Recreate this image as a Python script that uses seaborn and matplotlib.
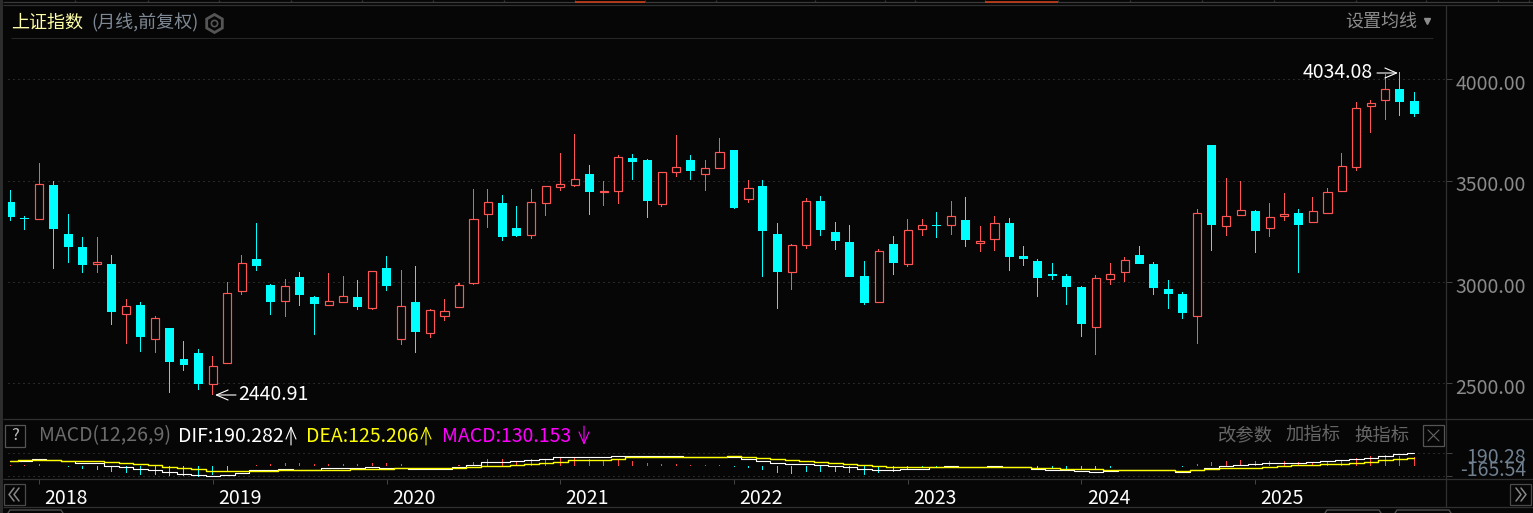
import matplotlib
matplotlib.use("Agg")
import matplotlib.pyplot as plt
from matplotlib.transforms import ScaledTranslation
import numpy as np
import pandas as pd
import seaborn as sns

# monthly candles
opens = [3394, 3316, 3312, 3478, 3237, 3172, 3087, 3088, 2840, 2886, 2717, 2773, 2620, 2649, 2498, 2598, 2954, 3113, 2985, 2904,
         3024, 2926, 2888, 2903, 2926, 2873, 3069, 2717, 2901, 2746, 2830, 2875, 2993, 3334, 3390, 3266, 3230, 3388, 3470, 3477,
         3533, 3442, 3447, 3612, 3602, 3383, 3541, 3602, 3531, 3561, 3651, 3408, 3473, 3237, 3047, 3181, 3399, 3246, 3197, 3029,
         2899, 3187, 3087, 3260, 3281, 3279, 3306, 3194, 3210, 3291, 3128, 3103, 3039, 3029, 2975, 2776, 3013, 3047, 3133, 3088,
         2965, 2940, 2834, 3676, 3274, 3329, 3350, 3269, 3327, 3340, 3294, 3339, 3447, 3566, 3867, 3896, 3952, 3893]
closes = [3322, 3311, 3482, 3263, 3174, 3085, 3097, 2853, 2880, 2730, 2820, 2607, 2592, 2498, 2588, 2944, 3092, 3080, 2903, 2978,
          2937, 2893, 2904, 2929, 2878, 3052, 2982, 2880, 2755, 2860, 2855, 2983, 3309, 3393, 3223, 3228, 3393, 3472, 3482, 3506,
          3445, 3447, 3615, 3593, 3401, 3541, 3566, 3549, 3561, 3640, 3366, 3462, 3253, 3051, 3185, 3398, 3258, 3204, 3026, 2898,
          3151, 3095, 3255, 3279, 3278, 3324, 3209, 3202, 3289, 3125, 3115, 3021, 3031, 2977, 2794, 3018, 3042, 3107, 3090, 2972,
          2942, 2848, 3339, 3283, 3324, 3353, 3253, 3319, 3335, 3283, 3348, 3442, 3570, 3857, 3881, 3950, 3890, 3830]
highs = [3454, 3325, 3587, 3498, 3335, 3222, 3222, 3133, 2916, 2901, 2832, 2773, 2709, 2669, 2634, 2998, 3133, 3291, 2988, 3014,
         3049, 2930, 3044, 3029, 3009, 3052, 3128, 3059, 3079, 2866, 2916, 2993, 3459, 3459, 3429, 3375, 3459, 3472, 3636, 3730,
         3577, 3498, 3626, 3631, 3607, 3541, 3725, 3626, 3602, 3710, 3651, 3503, 3503, 3291, 3190, 3417, 3424, 3296, 3281, 3103,
         3162, 3227, 3311, 3311, 3345, 3399, 3419, 3276, 3325, 3315, 3177, 3113, 3093, 3039, 2980, 3034, 3093, 3123, 3177, 3098,
         3010, 2949, 3360, 3676, 3513, 3500, 3353, 3390, 3439, 3360, 3419, 3464, 3636, 3888, 3898, 4026, 4034, 3937]
lows = [3302, 3258, 3312, 3065, 3095, 3046, 3046, 2789, 2695, 2656, 2651, 2453, 2562, 2468, 2441, 2598, 2937, 3056, 2838, 2829,
        2883, 2740, 2888, 2898, 2863, 2863, 2957, 2690, 2651, 2725, 2809, 2875, 2987, 3268, 3204, 3223, 3213, 3327, 3450, 3470,
        3330, 3376, 3386, 3505, 3317, 3371, 3519, 3505, 3450, 3561, 3362, 3391, 3026, 2868, 2962, 3164, 3228, 3159, 3026, 2888,
        2899, 3036, 3075, 3228, 3218, 3233, 3172, 3149, 3154, 3056, 3080, 2927, 3011, 2888, 2730, 2641, 2986, 3001, 3090, 2937,
        2868, 2819, 2695, 3154, 3228, 3329, 3144, 3223, 3302, 3046, 3294, 3339, 3447, 3547, 3737, 3801, 3820, 3816]

dif = [67, 77, 98, 83, 72, 46, 36, 0, -21, -52, -72, -93, -124, -144, -165, -144, -108, -72, -72, -52, -62, -62, -41, -41, -41,
       -26, -31, -31, -46, -46, -46, -26, 5, 52, 52, 67, 83, 108, 129, 139, 139, 139, 155, 155, 155, 155, 155, 139, 139, 139,
       129, 108, 77, 46, 31, 31, 15, 0, -15, -46, -62, -62, -46, -46, -26, -10, -26, -26, -10, -26, -26, -46, -62, -62, -83,
       -93, -77, -67, -62, -72, -72, -93, -62, -36, -10, 5, 21, 36, 36, 36, 52, 67, 83, 103, 124, 155, 186, 190]
dea = [77, 83, 83, 83, 77, 67, 67, 52, 36, 21, 5, -21, -41, -52, -77, -83, -88, -83, -77, -72, -72, -67, -67, -62, -57,
       -57, -46, -41, -41, -41, -41, -41, -26, -10, 0, 15, 21, 36, 62, 83, 83, 93, 108, 129, 129, 129, 129, 139, 139, 139,
       144, 129, 119, 103, 93, 77, 62, 46, 31, 10, 0, -15, -15, -15, -26, -26, -26, -26, -26, -26, -26, -31, -31, -46, -52,
       -57, -67, -67, -62, -72, -72, -77, -72, -57, -41, -41, -31, -15, 0, 5, 15, 21, 31, 46, 62, 88, 108, 125]
macd = [10, 10, 26, 0, -21, -52, -67, -93, -108, -139, -139, -160, -160, -170, -144, -83, -5, 10, 26, 41, 41, 26, 26, 26, 26,
        41, 41, 26, 0, 0, 0, 10, 52, 103, 103, 77, 103, 108, 124, 119, 103, 72, 88, 72, 41, 26, 26, 10, 10, 10,
        -21, -36, -67, -108, -129, -98, -98, -98, -113, -144, -113, -98, -67, -36, -21, 0, 0, 0, 0, -10, -5, -36, -36, -52, -67,
        -57, -36, -5, -5, -5, -5, -26, 26, 52, 72, 88, 72, 72, 72, 57, 57, 57, 88, 113, 150, 165, 150, 130]

price_ticks = [2500, 3000, 3500, 4000]
price_labels = ["2500.00", "3000.00", "3500.00", "4000.00"]
macd_ticks = [-165.54, 190.28]
macd_labels = ["-165.54", "190.28"]
year_pos = [2, 14, 26, 38, 50, 62, 74, 86]
year_labels = ["2018", "2019", "2020", "2021", "2022", "2023", "2024", "2025"]

BG = "#060606"
RED = "#ff5555"
CYAN = "#00ffff"
LINE = "#303030"

sns.set_theme(style="dark", rc={"figure.facecolor": BG, "axes.facecolor": BG, "savefig.facecolor": BG,
                                "axes.edgecolor": BG, "axes.grid": False})
plt.rcParams["font.family"] = ["Noto Sans CJK SC", "DejaVu Sans"]

W, H = 1533, 513
fig = plt.figure(figsize=(W / 100, H / 100), dpi=100)


def panel(left, top, right, bottom):
    return fig.add_axes([left / W, 1 - bottom / H, (right - left) / W, (bottom - top) / H])


def shift(labels, dx, dy):
    # move tick labels by some pixels
    off = ScaledTranslation(dx / 100, -dy / 100, fig.dpi_scale_trans)
    for lab in labels:
        lab.set_transform(lab.get_transform() + off)


df = pd.DataFrame({"i": np.arange(len(opens)), "open": opens, "close": closes, "high": highs, "low": lows})
df["top"] = df[["open", "close"]].max(axis=1)
df["bot"] = df[["open", "close"]].min(axis=1)
up = df[df["close"] >= df["open"]]
down = df[df["close"] < df["open"]]

ax = panel(8, 37, 1446, 418)
for sub, col in [(up, RED), (down, CYAN)]:
    sns.barplot(x=sub["i"].values, y=(sub["high"] - sub["low"]).values, bottom=sub["low"].values, native_scale=True,
                orient="x", width=0.07, color=col, saturation=1, linewidth=0, antialiased=False, errorbar=None, ax=ax)
sns.barplot(x=up["i"].values, y=(up["top"] - up["bot"]).values, bottom=up["bot"].values, native_scale=True, orient="x",
            width=0.56, color=BG, saturation=1, edgecolor=RED, linewidth=0.85, errorbar=None, ax=ax)
sns.barplot(x=down["i"].values, y=(down["top"] - down["bot"]).values, bottom=down["bot"].values, native_scale=True,
            orient="x", width=0.62, color=CYAN, saturation=1, linewidth=0, errorbar=None, ax=ax)
ax.set_xlim(-0.159, 99.19)
ax.set_ylim(2329, 4209)
ax.set_xticks([])
ax.set_xlabel("")
ax.yaxis.tick_right()
ax.set_yticks(price_ticks, labels=price_labels)
ax.tick_params(axis="y", length=4.5, width=0.7, color="#444444", labelcolor="#8a8a8a", labelsize=14, pad=2.2, right=True)
shift(ax.get_yticklabels(), 0, 2.5)
ax.grid(axis="y", color="#4a4a4a", linewidth=0.72, linestyle=(0, (1, 4)))
ax.set_axisbelow(True)
for s in ax.spines.values():
    s.set_visible(False)

ax2 = panel(8, 448, 1446, 479)
macd_df = pd.DataFrame({"i": df["i"], "macd": macd})
macd_df["side"] = np.where(macd_df["macd"] >= 0, "pos", "neg")
sns.barplot(data=macd_df, x="i", y="macd", hue="side", palette={"pos": "#ff4444", "neg": CYAN}, dodge=False,
            native_scale=True, orient="x", width=0.07, saturation=1, linewidth=0, antialiased=False, errorbar=None,
            legend=False, ax=ax2)
sns.lineplot(x=df["i"], y=dif, color="white", linewidth=0.8, drawstyle="steps-mid", errorbar=None, ax=ax2)
sns.lineplot(x=df["i"], y=dea, color="#ffff00", linewidth=1.0, drawstyle="steps-mid", errorbar=None, ax=ax2)
ax2.set_xlim(-0.159, 99.19)
ax2.set_ylim(-207, 272)
ax2.set_xlabel("")
ax2.set_ylabel("")
ax2.set_xticks(year_pos, labels=year_labels)
ax2.tick_params(axis="x", length=3.5, width=0.7, color="#444444", labelcolor="white", labelsize=14, pad=3, bottom=True)
shift(ax2.get_xticklabels(), 27, 0)
ax2.yaxis.tick_right()
ax2.set_yticks(macd_ticks, labels=macd_labels)
ax2.tick_params(axis="y", length=4.5, width=0.7, color="#444444", labelcolor="#708090", labelsize=14, pad=2.2, right=True)
for lab in ax2.get_yticklabels():
    lab.set_ha("right")
shift(ax2.get_yticklabels()[:1], 71, -8)
shift(ax2.get_yticklabels()[1:], 71, 2)
ax2.grid(axis="y", color="#4a4a4a", linewidth=0.72, linestyle=(0, (1, 4)))
ax2.set_axisbelow(True)
for s in ax2.spines.values():
    s.set_visible(False)

# window chrome, in pixels
ov = fig.add_axes([0, 0, 1, 1], zorder=5)
ov.set_xlim(0, W)
ov.set_ylim(H, 0)
ov.axis("off")
ov.patch.set_visible(False)

ov.axvspan(0, 2.5, color="#2c2c2c", lw=0)
ov.hlines([5, 418.5, 479, 507], 3, W, color=LINE, lw=0.9)
ov.hlines(2, 3, W, color="#3a3a3a", lw=0.9)
ov.hlines(38, 11, 1433, color="#262626", lw=0.8)
ov.vlines(1446, 5, 507, color=LINE, lw=0.9)
tabs = [75, 148, 219, 291, 362, 433, 504, 575, 645, 716, 815, 885, 915, 985, 1058, 1130, 1202, 1274, 1356, 1426, 1498, 1529]
ov.vlines(tabs, 0, 2, color="#3a3a3a", lw=0.9)
for x0, x1 in [(575, 645), (985, 1058)]:
    ov.hlines(2, x0, x1, color="#c8401a", lw=1.2)

ov.text(11, 23, "上证指数", color="#ffffa8", fontsize=13, va="center")
ov.text(91, 23, "(月线,前复权)", color="#7d8894", fontsize=13, va="center")
ov.plot([214], [23], marker="h", ms=13, mfc="none", mec="#555555", mew=2)
ov.plot([214], [23], marker="o", ms=4.5, mfc="none", mec="#555555", mew=1.2)
ov.text(1417, 22, "设置均线", color="#8c8c8c", fontsize=13, va="center", ha="right")
ov.plot([1427], [20.5], marker="v", ms=4, color="#8c8c8c")

# max / min markers
arrow = "->,head_length=0.7,head_width=0.3"
ov.text(1373, 72, "4034.08", color="white", fontsize=14, va="center", ha="right")
ov.annotate("", xy=(1398, 73), xytext=(1377, 73), arrowprops=dict(arrowstyle=arrow, color="white", lw=0.8, shrinkA=0, shrinkB=0))
ov.text(238, 394, "2440.91", color="white", fontsize=14, va="center")
ov.annotate("", xy=(215, 395), xytext=(236, 395), arrowprops=dict(arrowstyle=arrow, color="white", lw=0.8, shrinkA=0, shrinkB=0))

# indicator row
ov.add_patch(plt.Rectangle((5, 425), 20, 22, fc="none", ec="#555555", lw=0.9))
ov.text(15, 436, "?", color="#bbbbbb", fontsize=12, va="center", ha="center")
ov.text(39, 436, "MACD(12,26,9)", color="#6c6c6c", fontsize=14, va="center")
ov.text(178, 436, "DIF:190.282", color="white", fontsize=14, va="center")
ov.text(306, 436, "DEA:125.206", color="#ffff00", fontsize=14, va="center")
ov.text(442, 436, "MACD:130.153", color="#ff00ff", fontsize=14, va="center")
for x0, y0, y1, col in [(291, 445, 426, "white"), (426, 445, 426, "#ffff00"), (584, 426, 445, "#ff00ff")]:
    ov.annotate("", xy=(x0, y1), xytext=(x0, y0), arrowprops=dict(arrowstyle=arrow, color=col, lw=0.8, shrinkA=0, shrinkB=0))
for x0, s in [(1218, "改参数"), (1286, "加指标"), (1354, "换指标")]:
    ov.text(x0, 436, s, color="#666666", fontsize=13.2, va="center")
ov.add_patch(plt.Rectangle((1423, 425), 21, 21, fc="none", ec="#555555", lw=0.9))
ov.plot([1428, 1439], [430, 441], color="#666666", lw=0.8)
ov.plot([1428, 1439], [441, 430], color="#666666", lw=0.8)

# scroll buttons, chevrons drawn as lines
ov.add_patch(plt.Rectangle((4, 484), 21, 21, fc="none", ec="#4a4a4a", lw=0.9))
ov.add_patch(plt.Rectangle((1510, 484), 21, 21, fc="none", ec="#4a4a4a", lw=0.9))
for d in [0, 5]:
    ov.plot([14 + d, 9 + d, 14 + d], [488, 494.5, 501], color="#888888", lw=1.1)
    ov.plot([1516 + d, 1521 + d, 1516 + d], [488, 494.5, 501], color="#888888", lw=1.1)
for x0, x1 in [(8, 63), (1325, 1381), (1395, 1451)]:
    ov.plot([x0, x0 + 2, x1 - 2, x1], [513, 510, 510, 513], color="#555555", lw=0.9)

fig.savefig("out.png", dpi=100, facecolor=BG)
